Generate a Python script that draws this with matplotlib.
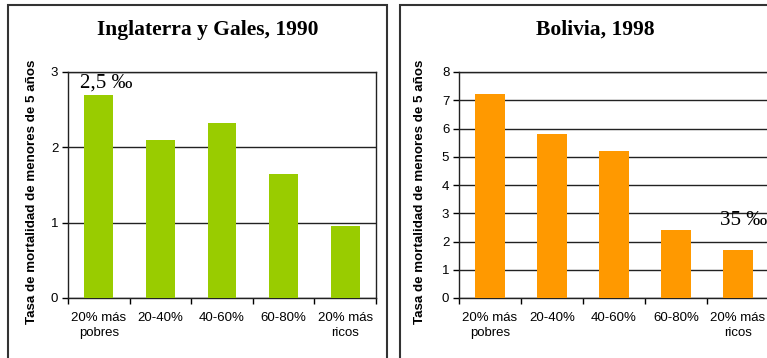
import matplotlib
matplotlib.use('Agg')
import matplotlib.pyplot as plt
from matplotlib.patches import Rectangle
import numpy as np

# Data
categories = ['20% más\npobres', '20-40%', '40-60%', '60-80%', '20% más\nricos']
england_values = [2.70, 2.10, 2.32, 1.65, 0.955]
bolivia_values = [7.23, 5.81, 5.21, 2.40, 1.69]
titles = ['Inglaterra y Gales, 1990', 'Bolivia, 1998']
notes = ['2,5 ‰', '35 ‰']
ylabel = 'Tasa de mortalidad de menores de 5 años'

plt.rcParams['font.family'] = ['Liberation Sans', 'DejaVu Sans']

W, H = 767, 358
fig = plt.figure(figsize=(W / 100, H / 100), dpi=100)
fig.patch.set_facecolor('white')


def fx(px):
    return px / W


def fy(py):
    return 1 - py / H


# Panel frames
for x0, x1 in [(8, 387), (400, 779)]:
    fig.patches.append(Rectangle((fx(x0), fy(380)), fx(x1 - x0), fy(5) - fy(380),
                                 transform=fig.transFigure, fill=False,
                                 edgecolor='#333333', linewidth=1.5, clip_on=False))

panels = [
    dict(vals=england_values, color='#99CC00', left=68, width=308, ymax=3,
         title_x=208, ylab_x=32, note=notes[0], note_xy=(-0.31, 2.79)),
    dict(vals=bolivia_values, color='#FF9900', left=459, width=310, ymax=8,
         title_x=595, ylab_x=420, note=notes[1], note_xy=(3.71, 2.59)),
]

for p, title in zip(panels, titles):
    ax = fig.add_axes([fx(p['left']), fy(298), fx(p['width']), fy(72) - fy(298)])
    x = np.arange(len(categories))
    ax.bar(x, p['vals'], width=0.47, color=p['color'], zorder=3)
    ax.set_xlim(-0.5, len(categories) - 0.5)
    ax.set_ylim(0, p['ymax'])
    ax.set_yticks(np.arange(0, p['ymax'] + 1))
    ax.tick_params(axis='y', direction='out', length=4, width=1, labelsize=9.5, pad=3)
    ax.yaxis.grid(True, color='#222222', linewidth=1, zorder=1)
    ax.set_axisbelow(True)

    # ticks at category boundaries, labels centred under bars
    ax.set_xticks(np.arange(-0.5, len(categories)))
    ax.set_xticklabels([])
    ax.set_xticks(x, minor=True)
    ax.set_xticklabels(categories, minor=True, fontsize=9.5, linespacing=1.3)
    ax.tick_params(axis='x', which='major', direction='out', length=4, width=1)
    ax.tick_params(axis='x', which='minor', length=0, pad=10)
    for s in ax.spines.values():
        s.set_linewidth(1)
        s.set_color('#222222')

    ax.text(p['note_xy'][0], p['note_xy'][1], p['note'], fontsize=15,
            family='Liberation Serif', va='baseline', ha='left', clip_on=False)

    fig.text(fx(p['title_x']), fy(30), title, ha='center', va='center',
             fontsize=15.5, fontweight='bold', family='Liberation Serif')
    fig.text(fx(p['ylab_x']), fy(192), ylabel, rotation=90, ha='center',
             va='center', fontsize=9.6, fontweight='bold')

fig.savefig('out.png', dpi=100)
